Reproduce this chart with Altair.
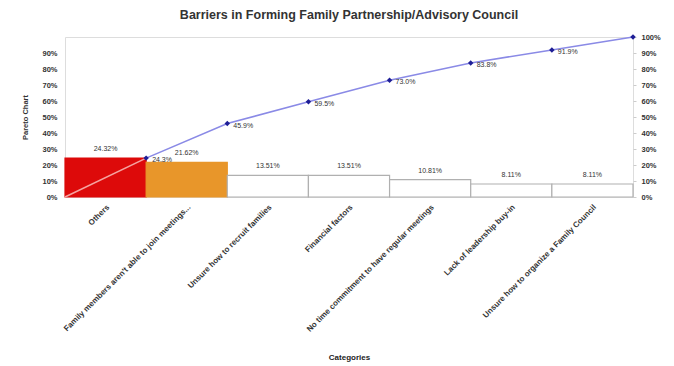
import altair as alt
import pandas as pd

categories = [
    "Others",
    "Family members aren't able to join meetings...",
    "Unsure how to recruit families",
    "Financial factors",
    "No time commitment to have regular meetings",
    "Lack of leadership buy-in",
    "Unsure how to organize a Family Council",
]
pcts = [24.32, 21.62, 13.51, 13.51, 10.81, 8.11, 8.11]
bar_labels = ["24.32%", "21.62%", "13.51%", "13.51%", "10.81%", "8.11%", "8.11%"]
bar_colors = ["#DD0A0A", "#E8962A", "#FFFFFF", "#FFFFFF", "#FFFFFF", "#FFFFFF", "#FFFFFF"]
bar_strokes = ["#DD0A0A", "#E8962A", "#B0B0B0", "#B0B0B0", "#B0B0B0", "#B0B0B0", "#B0B0B0"]
cum_pos = [0, 1, 2, 3, 4, 5, 6, 7]
cum_vals = [0.0, 24.3, 45.9, 59.5, 73.0, 83.8, 91.9, 100.0]
cum_labels = ["", "24.3%", "45.9%", "59.5%", "73.0%", "83.8%", "91.9%", ""]

bars_df = pd.DataFrame({
    "cat": categories,
    "pct": [p / 100 for p in pcts],
    "label": bar_labels,
    "fill": bar_colors,
    "stroke": bar_strokes,
})
line_df = pd.DataFrame({
    "pos": cum_pos,
    "cum": [v / 100 for v in cum_vals],
    "label": cum_labels,
})

W, H = 568, 160
font = "Liberation Sans"

xb = alt.X(
    "cat:N", sort=categories, title="Categories",
    scale=alt.Scale(paddingInner=0, paddingOuter=0),
    axis=alt.Axis(labelAngle=-45, labelFontSize=8, labelFontWeight="bold",
                  labelColor="#333333", labelLimit=400, labelOverlap=False,
                  domain=False, ticks=False, labelPadding=6,
                  titleFontSize=8, titleFontWeight="bold", titleColor="#222222",
                  titleY=160, titleBaseline="middle"),
)
yl = alt.Y(
    "pct:Q", title="Pareto Chart",
    scale=alt.Scale(domain=[0, 1], nice=False),
    axis=alt.Axis(format=".0%", values=[round(i / 10, 1) for i in range(10)], grid=False,
                  labelOverlap=False, domain=False, ticks=False, labelFontSize=7.5,
                  labelFontWeight="bold", labelColor="#333333",
                  labelPadding=8, titleFontSize=7.5, titleFontWeight="bold",
                  titleColor="#333333", titlePadding=12),
)

bars = alt.Chart(bars_df).mark_bar(strokeWidth=1.2).encode(
    x=xb, y=yl,
    fill=alt.Fill("fill:N", scale=None),
    stroke=alt.Stroke("stroke:N", scale=None),
)
bar_text = alt.Chart(bars_df).mark_text(
    fontSize=7, color="#333333", dy=-6, baseline="bottom", font=font
).encode(x=xb, y=yl, text="label:N")

left = alt.layer(bars, bar_text)

xq = alt.X("pos:Q", scale=alt.Scale(domain=[0, 7], nice=False), axis=None)
yr = alt.Y(
    "cum:Q", title=None,
    scale=alt.Scale(domain=[0, 1], nice=False),
    axis=alt.Axis(orient="right", format=".0%", values=[round(i / 10, 1) for i in range(11)],
                  labelOverlap=False, grid=False, domain=False, ticks=True,
                  tickColor="#cccccc", tickSize=3, labelFontSize=7.5,
                  labelFontWeight="bold", labelColor="#333333", labelPadding=5),
)

first_seg = alt.Chart(line_df).transform_filter("datum.pos <= 1").mark_line(
    color="#F5A3A0", strokeWidth=1.6).encode(x=xq, y=yr)
rest_line = alt.Chart(line_df).transform_filter("datum.pos >= 1").mark_line(
    color="#8A8AE6", strokeWidth=1.6).encode(x=xq, y=yr)
pts = alt.Chart(line_df).transform_filter("datum.pos >= 1").mark_point(
    filled=True, shape="diamond", size=30, color="#1E1E96", opacity=1).encode(x=xq, y=yr)
pt_text = alt.Chart(line_df).mark_text(
    align="left", dx=6, dy=2, fontSize=7, color="#333333", font=font
).encode(x=xq, y=yr, text="label:N")

right = alt.layer(first_seg, rest_line, pts, pt_text)

chart = alt.layer(left, right).resolve_scale(x="independent", y="independent").properties(
    width=W, height=H,
    title=alt.TitleParams("Barriers in Forming Family Partnership/Advisory Council",
                          fontSize=12.5, fontWeight="bold", color="#333333",
                          font=font, anchor="middle", offset=12),
    autosize=alt.AutoSizeParams(type="none"),
    padding={"left": 65, "top": 37, "right": 41, "bottom": 169},
).configure_view(stroke="#D4D4D4", strokeWidth=1).configure(
    font=font, background="white"
)

chart.save("out.html", embed_options={"renderer": "svg", "actions": False})
